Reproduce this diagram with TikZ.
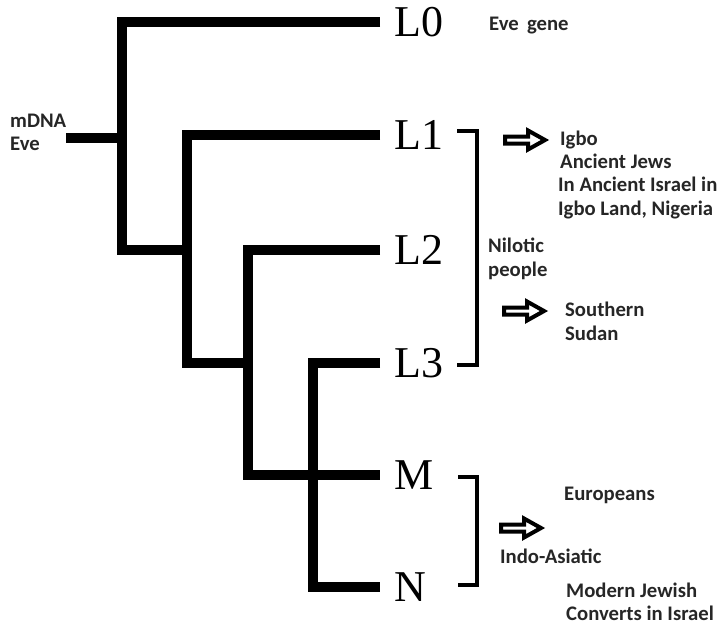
\documentclass[tikz,border=0pt]{standalone}
\usepackage{fontspec}
\setmainfont{Carlito}
\newfontfamily\cladefont{Liberation Serif}
\definecolor{notegray}{HTML}{262626}
\begin{document}
\begin{tikzpicture}[x=1pt,y=-1pt,
  branch/.style={line width=10pt, line join=miter},
  bracketline/.style={line width=3.5pt, line join=miter},
  clade/.style={font=\cladefont\fontsize{44}{44}\selectfont, anchor=west,
    inner xsep=14pt, inner ysep=0pt},
  note/.style={font=\bfseries\fontsize{20.7}{24}\selectfont, text=notegray,
    anchor=base west, inner sep=0pt},
  openarrow/.pic={\draw[line width=4pt, fill=white, line join=miter]
    (0,-3.5) -- (23,-3.5) -- (23,-9.5) -- (40,0) -- (23,9.5) -- (23,3.5)
    -- (0,3.5) -- cycle;}
]
\useasboundingbox (0,0) rectangle (725,625);

% haplogroup labels
\node[clade] (L0) at (380,22)  {L0};
\node[clade] (L1) at (380,135) {L1};
\node[clade] (L2) at (380,250) {L2};
\node[clade] (L3) at (380,363) {L3};
\node[clade] (M)  at (380,475) {M};
\node[clade] (N)  at (380,587) {N};

% junctions of the tree
\coordinate (root) at (66,138);
\coordinate (j0) at (122,250);
\coordinate (j1) at (187,363);
\coordinate (j2) at (248,475);
\coordinate (j3) at (313,587);

% the tree
\draw[branch] (root) -- (j0 |- root);
\draw[branch] (L0.west) -| (j0) -- (j1 |- j0);
\draw[branch] (L1.west) -| (j1) -- (j2 |- j1);
\draw[branch] (L2.west) -| (j2) -- (M.west);
\draw[branch] (L3.west) -| (j3) -- (N.west);

% brackets
\coordinate (b1a) at (457,131);
\coordinate (b1b) at (477,365);
\coordinate (b1c) at (457,365);
\draw[bracketline] (b1a) -| (b1b) -- (b1c);
\coordinate (b2a) at (458,477);
\coordinate (b2b) at (477,585);
\coordinate (b2c) at (458,585);
\draw[bracketline] (b2a) -| (b2b) -- (b2c);

% open arrows
\pic (arr1) at (505,140) {openarrow};
\pic (arr2) at (504,311) {openarrow};
\pic (arr3) at (501,528) {openarrow};

% notes
\node[note] (mdna) at (10,127) {mDNA};
\node[note] (eve)  at (10,150) {Eve};
\node[note] (evegene) at (489,30) {Eve\hspace{0.4em}gene};

\node[note] (igbo1) at (560,145) {Igbo};
\node[note] (igbo2) at (560,168) {Ancient Jews};
\node[note] (igbo3) at (558,191) {In Ancient Israel in};
\node[note] (igbo4) at (558,215) {Igbo Land, Nigeria};

\node[note] (nil1) at (488,252) {Nilotic};
\node[note] (nil2) at (488,276) {people};

\node[note] (sud1) at (565,316) {Southern};
\node[note] (sud2) at (565,340) {Sudan};

\node[note] (euro) at (564,500) {Europeans};
\node[note] (indo) at (500,563) {Indo-Asiatic};
\node[note] (conv1) at (566,597) {Modern Jewish};
\node[note] (conv2) at (566,620) {Converts in Israel};
\end{tikzpicture}
\end{document}
